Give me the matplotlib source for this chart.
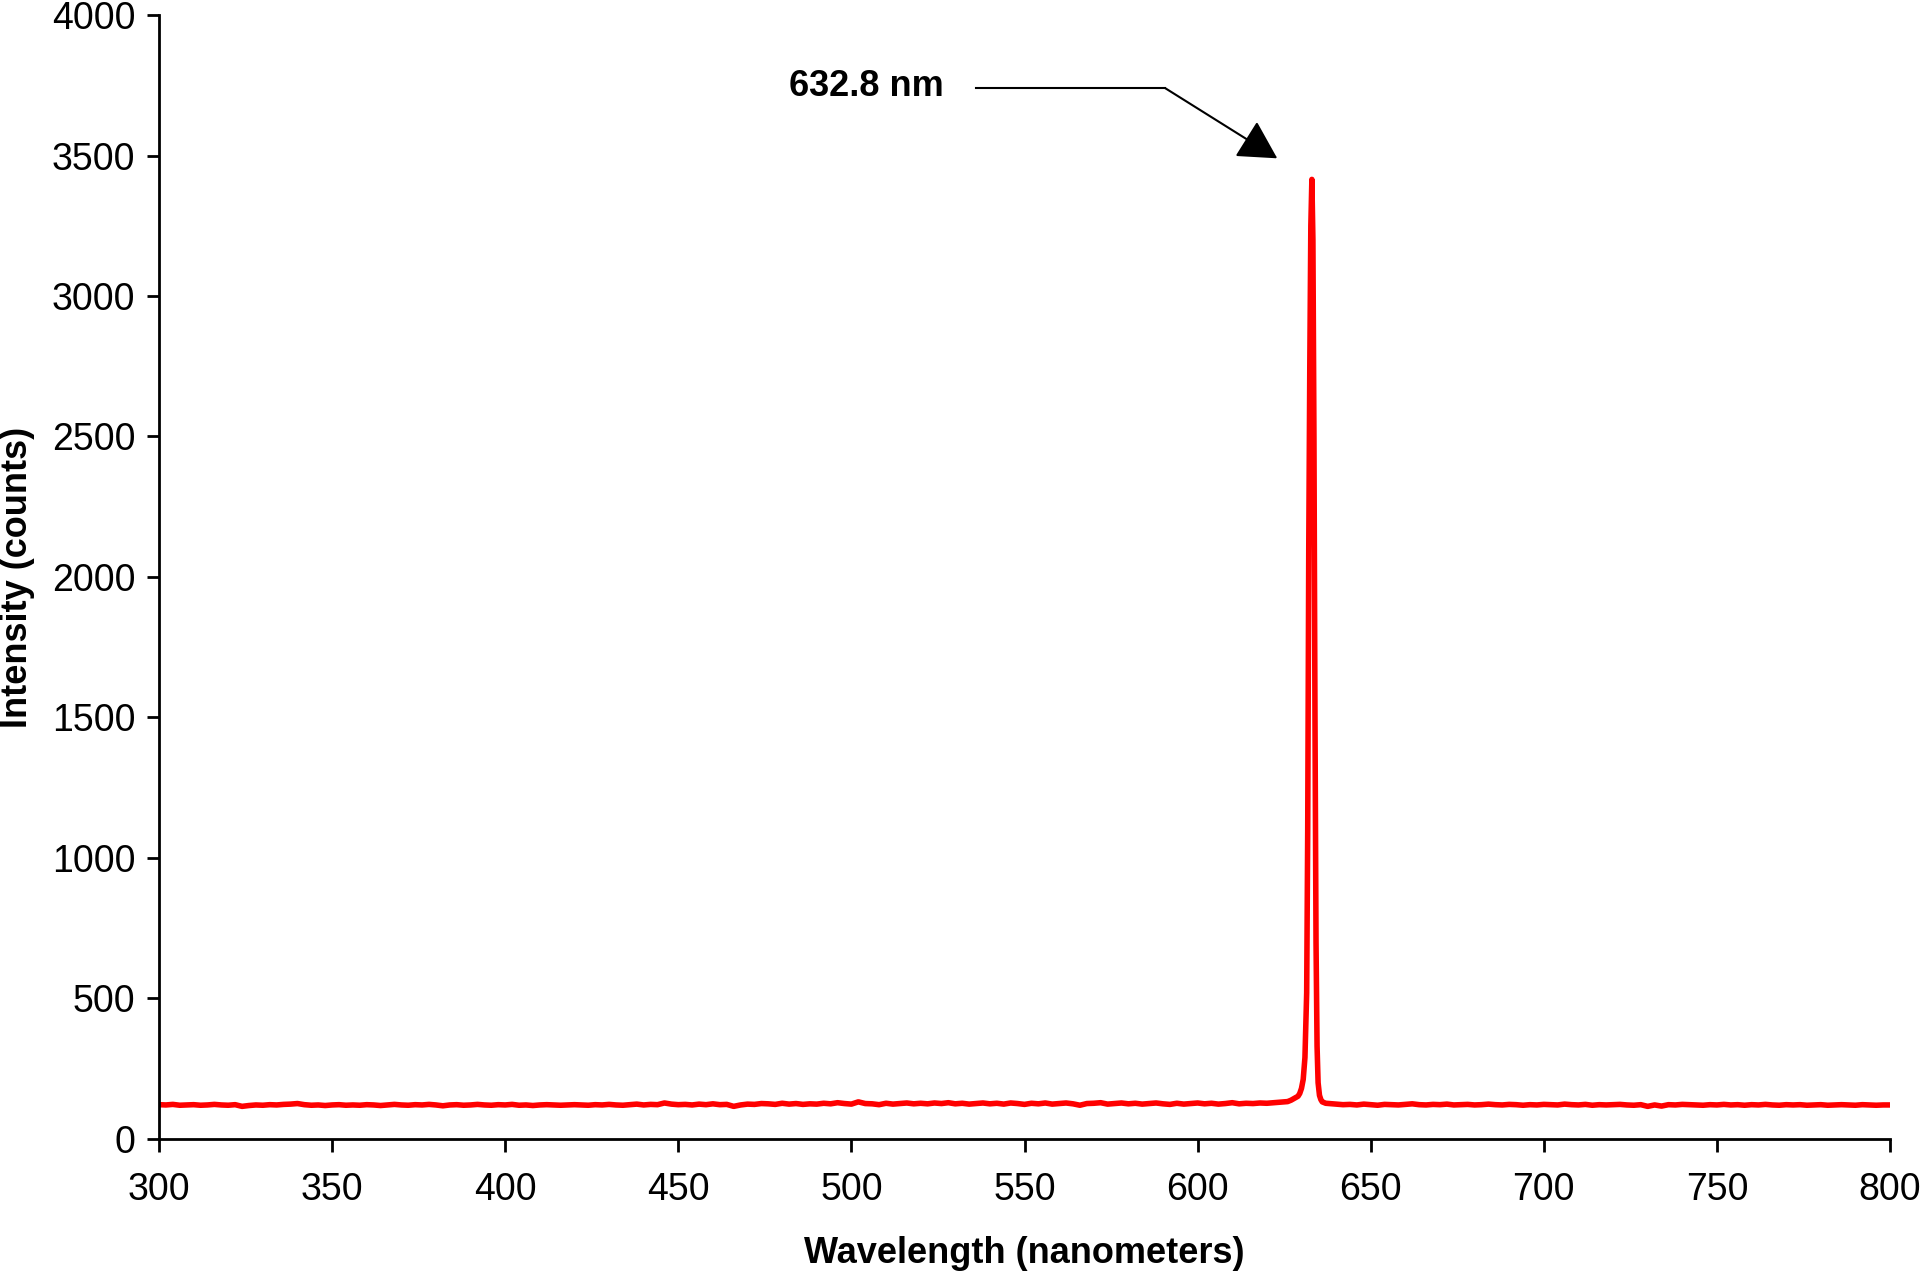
import numpy as np
import matplotlib
matplotlib.use('Agg')
import matplotlib.pyplot as plt

plt.rcParams['font.family'] = ['Liberation Sans', 'DejaVu Sans']

# baseline counts, 2 nm steps, 300-624 nm
base_left = [
    122, 121, 123, 120, 121, 122, 120, 121, 123, 121,
    120, 122, 116, 119, 121, 120, 122, 121, 123, 124,
    126, 122, 120, 121, 119, 121, 122, 120, 121, 120,
    122, 121, 119, 121, 123, 121, 120, 122, 121, 123,
    121, 118, 121, 122, 120, 121, 123, 121, 120, 122,
    121, 123, 120, 121, 119, 121, 122, 121, 120, 121,
    122, 121, 120, 122, 121, 123, 121, 120, 122, 124,
    121, 123, 122, 128, 124, 122, 123, 121, 124, 122,
    125, 122, 123, 116, 121, 124, 123, 126, 125, 123,
    127, 124, 126, 123, 125, 124, 127, 125, 129, 126,
    124, 132, 126, 125, 122, 127, 124, 126, 128, 125,
    127, 125, 128, 126, 129, 125, 127, 124, 126, 128,
    125, 127, 124, 128, 126, 123, 127, 125, 128, 124,
    126, 128, 125, 120, 126, 127, 129, 124, 126, 128,
    125, 127, 124, 126, 128, 125, 123, 127, 124, 126,
    128, 125, 127, 124, 126, 129, 125, 127, 126, 128,
    127, 129, 131,
]

# HeNe line region
peak_wl = [626.0, 627.0, 628.0, 629.0, 629.5, 630.0, 630.5, 631.0, 631.5,
           631.8, 632.1, 632.4, 632.7, 633.0, 633.3, 633.6, 633.9, 634.2,
           634.5, 634.8, 635.2, 635.6, 636.0, 637.0]
peak_counts = [133, 138, 145, 152, 162, 180, 212, 290, 520,
               1100, 2100, 2750, 3250, 3415, 3200, 2500, 1500, 700,
               330, 200, 155, 140, 132, 127]

# baseline counts, 2 nm steps, 638-800 nm
base_right = [
    126, 124, 122, 123, 121, 124, 122, 120, 123, 122,
    121, 123, 125, 122, 121, 123, 122, 124, 121, 122,
    123, 121, 122, 124, 122, 121, 123, 122, 120, 122,
    121, 123, 122, 121, 124, 122, 121, 123, 120, 122,
    121, 122, 123, 121, 120, 122, 116, 121, 117, 122,
    121, 123, 122, 121, 120, 122, 121, 123, 121, 122,
    120, 122, 121, 123, 121, 120, 122, 121, 122, 120,
    121, 122, 120, 121, 122, 121, 120, 122, 121, 120,
    121, 121,
]

wl = np.concatenate([np.arange(300, 626, 2), peak_wl, np.arange(638, 801, 2)])
counts = np.concatenate([base_left, peak_counts, base_right])

fig, ax = plt.subplots(figsize=(19.2, 12.73), dpi=100)
fig.subplots_adjust(left=0.0828, right=0.9844, bottom=0.1053, top=0.9882)

ax.plot(wl, counts, color='#ff0000', lw=4, solid_joinstyle='round')

ax.set_xlim(300, 800)
ax.set_ylim(0, 4000)
ax.set_xticks(np.arange(300, 801, 50))
ax.set_yticks(np.arange(0, 4001, 500))

for s in ['top', 'right']:
    ax.spines[s].set_visible(False)
for s in ['left', 'bottom']:
    ax.spines[s].set_linewidth(2)

ax.tick_params(axis='both', direction='out', length=9, width=2, labelsize=27)
ax.tick_params(axis='x', pad=15)
ax.tick_params(axis='y', pad=8)

ax.set_xlabel('Wavelength (nanometers)', fontsize=26, fontweight='bold', labelpad=20)
ax.set_ylabel('Intensity (counts)', fontsize=26, fontweight='bold', labelpad=12)

# peak label with bent leader
ax.text(482, 3745, '632.8 nm', fontsize=26, fontweight='bold', va='center', ha='left')
ax.plot([536, 590.6], [3740, 3740], color='black', lw=1.5, clip_on=False)
ax.annotate('', xy=(623, 3490), xytext=(590.6, 3740),
            arrowprops=dict(arrowstyle='-|>,head_length=1.0,head_width=0.55',
                            mutation_scale=24, color='black', lw=1.5,
                            shrinkA=0, shrinkB=0))

plt.savefig('out.png', dpi=100)
